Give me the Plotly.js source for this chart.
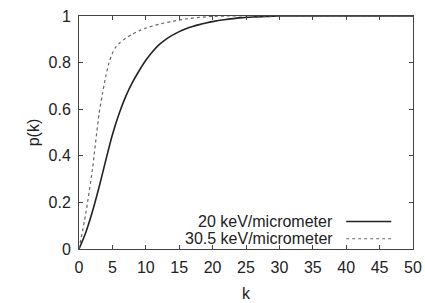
<!DOCTYPE html>
<html>
<head>
<meta charset="utf-8">
<script src="https://cdn.plot.ly/plotly-3.0.1.min.js"></script>
<style>html,body{margin:0;padding:0;background:#fff;}#chart{width:425px;height:303px;}</style>
</head>
<body>
<div id="chart"></div>
<script>
// Data
var kSolid = [0, 1, 2, 3, 4, 5, 6, 7, 8, 9, 10, 11, 12, 13, 14, 15, 16, 17, 18, 19, 20, 22, 24, 26, 28, 30, 35, 40, 45, 50];
var pSolid = [0, 0.07, 0.16, 0.265, 0.38, 0.49, 0.58, 0.655, 0.715, 0.765, 0.81, 0.847, 0.877, 0.90, 0.918, 0.933, 0.945, 0.955, 0.963, 0.97, 0.976, 0.985, 0.992, 0.996, 0.998, 1.0, 1.0, 1.0, 1.0, 1.0];
var kDotted = [0, 1, 2, 3, 3.5, 4, 4.5, 5, 5.5, 6, 7, 8, 9, 10, 12, 14, 16, 18, 20, 22, 25, 30, 35, 40, 45, 50];
var pDotted = [0, 0.15, 0.34, 0.58, 0.665, 0.74, 0.80, 0.84, 0.866, 0.882, 0.905, 0.922, 0.937, 0.948, 0.965, 0.977, 0.987, 0.994, 0.998, 1.0, 1.0, 1.0, 1.0, 1.0, 1.0, 1.0];
var seriesNames = ['20 keV/micrometer', '30.5 keV/micrometer'];
var xTicks = [0, 5, 10, 15, 20, 25, 30, 35, 40, 45, 50];
var yTicks = [0, 0.2, 0.4, 0.6, 0.8, 1];
var yTickText = ['0', '0.2', '0.4', '0.6', '0.8', '1'];

var FONT = 'Liberation Sans, Arial, sans-serif';
var traces = [
  {x: kSolid, y: pSolid, mode: 'lines', name: seriesNames[0], line: {color: '#222', width: 1.6, shape: 'spline', smoothing: 0.7}, showlegend: false},
  {x: kDotted, y: pDotted, mode: 'lines', name: seriesNames[1], line: {color: '#666', width: 1.2, dash: 'dot', shape: 'spline', smoothing: 0.7}, showlegend: false}
];

// legend drawn with text on the left and line sample on the right (as in reference)
var legY = [0.118, 0.044];
var annotations = seriesNames.map(function (n, i) {
  return {xref: 'paper', yref: 'paper', x: 0.766, y: legY[i], xanchor: 'right', yanchor: 'middle',
    text: n, showarrow: false, font: {family: FONT, size: 16, color: '#222'}};
});
var shapes = [
  {type: 'line', xref: 'paper', yref: 'paper', x0: 0.80, x1: 0.935, y0: legY[0], y1: legY[0], line: {color: '#222', width: 1.6}},
  {type: 'line', xref: 'paper', yref: 'paper', x0: 0.80, x1: 0.935, y0: legY[1], y1: legY[1], line: {color: '#666', width: 1.2, dash: 'dot'}}
];

var axisCommon = {
  showgrid: false, zeroline: false, showline: true, linecolor: '#444', linewidth: 1,
  mirror: 'allticks', ticks: 'inside', ticklen: 4, tickcolor: '#444', tickwidth: 1,
  tickfont: {family: FONT, size: 16, color: '#222'}
};
var layout = {
  width: 425, height: 303,
  margin: {l: 79, r: 12, t: 16, b: 54},
  paper_bgcolor: '#fff', plot_bgcolor: '#fff',
  xaxis: Object.assign({}, axisCommon, {range: [0, 50], tickvals: xTicks, ticklabelstandoff: 4,
    title: {text: 'k', font: {family: FONT, size: 16, color: '#222'}, standoff: 12}}),
  yaxis: Object.assign({}, axisCommon, {range: [0, 1], tickvals: yTicks, ticktext: yTickText, ticklabelstandoff: 4,
    title: {text: 'p(k)', font: {family: FONT, size: 16, color: '#222'}, standoff: 4}}),
  annotations: annotations,
  shapes: shapes,
  showlegend: false
};
Plotly.newPlot('chart', traces, layout, {staticPlot: true, displayModeBar: false});
</script>
</body>
</html>
